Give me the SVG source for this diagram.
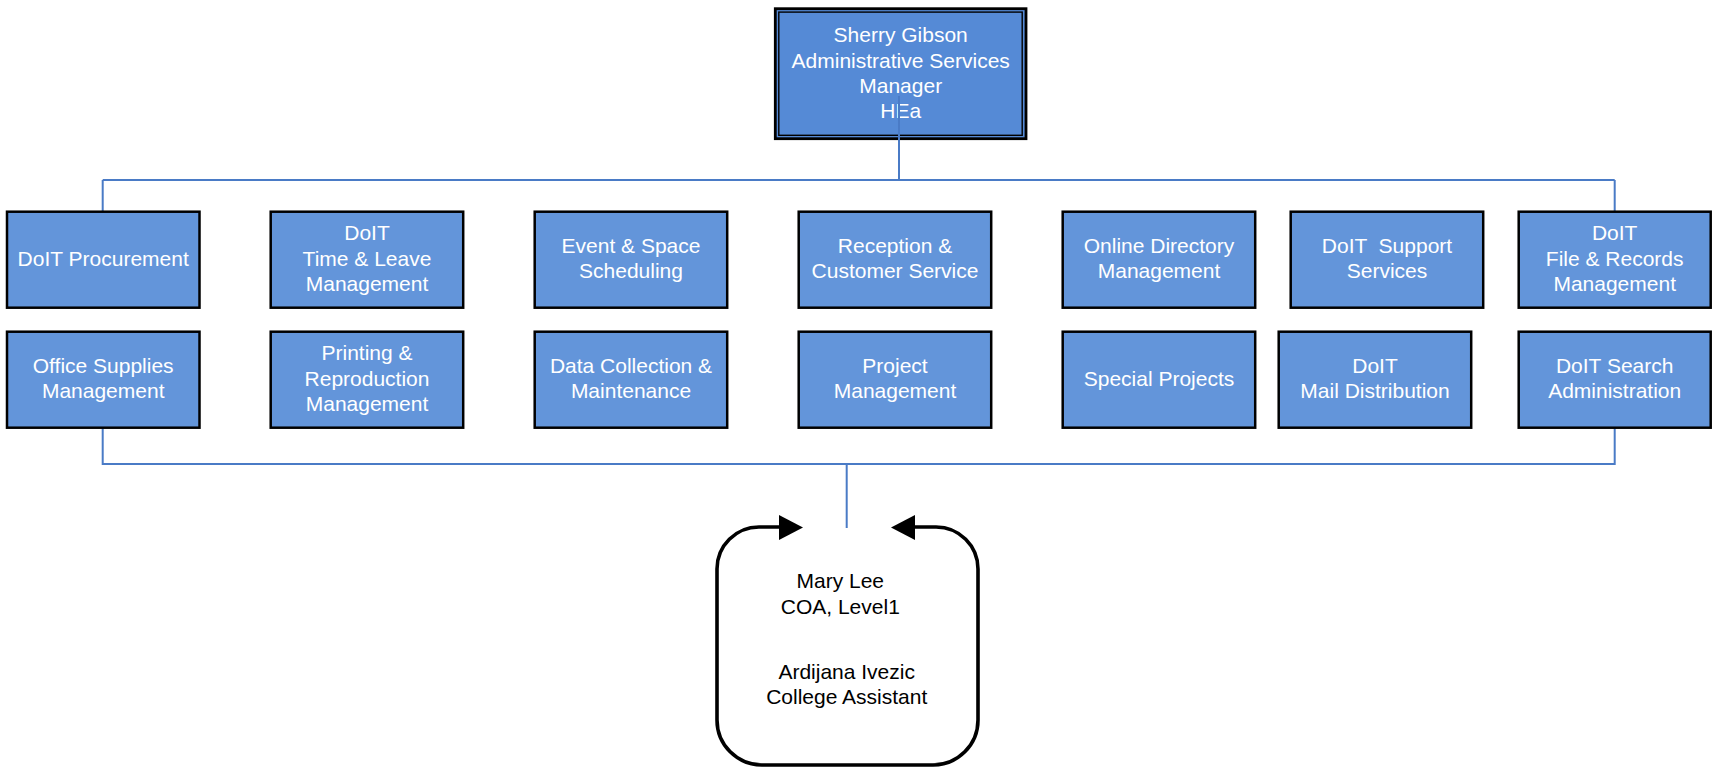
<svg xmlns="http://www.w3.org/2000/svg" width="1713" height="769" viewBox="0 0 1713 769">
<style>
.box{fill:#6395da;stroke:#000;stroke-width:2.5}
.t{font-family:"Liberation Sans",Arial,sans-serif;font-size:21px;fill:#fff;text-anchor:middle}
.k{font-family:"Liberation Sans",Arial,sans-serif;font-size:21px;fill:#000;text-anchor:middle}
.c{fill:none;stroke:#4a7bc6;stroke-width:2}
</style>
<rect width="1713" height="769" fill="#fff"/>
<g id="manager">
<rect x="775.3" y="8.7" width="250.7" height="130" fill="#558ad6" stroke="#000" stroke-width="2.8"/>
<rect x="778.8" y="12.1" width="243.4" height="123.2" fill="none" stroke="#000" stroke-width="1.4"/>
<text class="t" x="900.7"><tspan x="900.7" y="41.7">Sherry Gibson</tspan><tspan x="900.7" y="67.5">Administrative Services</tspan><tspan x="900.7" y="92.8">Manager</tspan><tspan x="900.7" y="118.3">HEa</tspan></text>
</g>
<g id="connectors">
<path class="c" d="M899 96V180M102.7 180H1614.7M102.7 180V211.7M1614.7 180V211.7"/>
<path class="c" d="M102.7 427.7V464H1614.7V427.7M846.7 464V528"/>
</g>
<g id="procurement"><rect class="box" x="7" y="211.7" width="192.5" height="96"/><text class="t" x="103.2" y="266">DoIT Procurement</text></g>
<g id="time-leave"><rect class="box" x="270.7" y="211.7" width="192.5" height="96"/><text class="t"><tspan x="367" y="240">DoIT</tspan><tspan x="367" y="265.5">Time &amp; Leave</tspan><tspan x="367" y="291">Management</tspan></text></g>
<g id="event-space"><rect class="box" x="534.7" y="211.7" width="192.5" height="96"/><text class="t"><tspan x="631" y="252.5">Event &amp; Space</tspan><tspan x="631" y="278">Scheduling</tspan></text></g>
<g id="reception"><rect class="box" x="798.7" y="211.7" width="192.5" height="96"/><text class="t"><tspan x="895" y="252.5">Reception &amp;</tspan><tspan x="895" y="278">Customer Service</tspan></text></g>
<g id="online-directory"><rect class="box" x="1062.7" y="211.7" width="192.5" height="96"/><text class="t"><tspan x="1159" y="252.5">Online Directory</tspan><tspan x="1159" y="278">Management</tspan></text></g>
<g id="support-services"><rect class="box" x="1290.7" y="211.7" width="192.5" height="96"/><text class="t" xml:space="preserve"><tspan x="1387" y="252.5">DoIT  Support</tspan><tspan x="1387" y="278">Services</tspan></text></g>
<g id="file-records"><rect class="box" x="1518.7" y="211.7" width="192" height="96"/><text class="t"><tspan x="1614.7" y="240">DoIT</tspan><tspan x="1614.7" y="265.5">File &amp; Records</tspan><tspan x="1614.7" y="291">Management</tspan></text></g>
<g id="office-supplies"><rect class="box" x="7" y="331.7" width="192.5" height="96"/><text class="t"><tspan x="103.2" y="372.5">Office Supplies</tspan><tspan x="103.2" y="398">Management</tspan></text></g>
<g id="printing"><rect class="box" x="270.7" y="331.7" width="192.5" height="96"/><text class="t"><tspan x="367" y="360">Printing &amp;</tspan><tspan x="367" y="385.5">Reproduction</tspan><tspan x="367" y="411">Management</tspan></text></g>
<g id="data-collection"><rect class="box" x="534.7" y="331.7" width="192.5" height="96"/><text class="t"><tspan x="631" y="372.5">Data Collection &amp;</tspan><tspan x="631" y="398">Maintenance</tspan></text></g>
<g id="project-management"><rect class="box" x="798.7" y="331.7" width="192.5" height="96"/><text class="t"><tspan x="895" y="372.5">Project</tspan><tspan x="895" y="398">Management</tspan></text></g>
<g id="special-projects"><rect class="box" x="1062.7" y="331.7" width="192.5" height="96"/><text class="t" x="1159" y="386">Special Projects</text></g>
<g id="mail-distribution"><rect class="box" x="1278.7" y="331.7" width="192.5" height="96"/><text class="t"><tspan x="1375" y="372.5">DoIT</tspan><tspan x="1375" y="398">Mail Distribution</tspan></text></g>
<g id="search-admin"><rect class="box" x="1518.7" y="331.7" width="192" height="96"/><text class="t"><tspan x="1614.7" y="372.5">DoIT Search</tspan><tspan x="1614.7" y="398">Administration</tspan></text></g>
<g id="staff">
<path d="M781 527H759A42 42 0 0 0 717 569V720A45 45 0 0 0 762 765H933A45 45 0 0 0 978 720V569A42 42 0 0 0 936 527H913" fill="none" stroke="#000" stroke-width="3.6"/>
<polygon points="779,515 803,527.5 779,540" fill="#000"/>
<polygon points="915,515 891,527.5 915,540" fill="#000"/>
<text class="k"><tspan x="840.3" y="588.3">Mary Lee</tspan><tspan x="840.3" y="614">COA, Level1</tspan><tspan x="846.7" y="679">Ardijana Ivezic</tspan><tspan x="846.7" y="704.3">College Assistant</tspan></text>
</g>
</svg>
